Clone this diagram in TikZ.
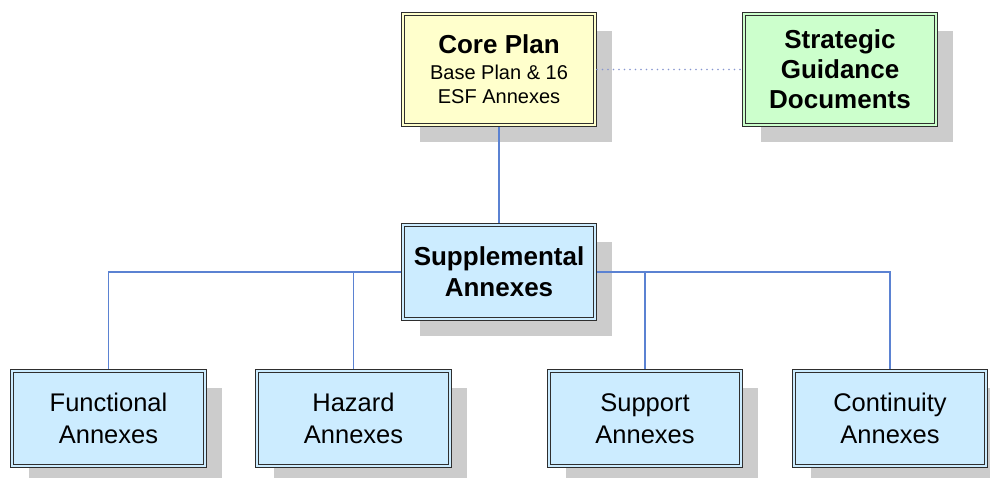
\documentclass[tikz,border=0pt]{standalone}
\usepackage{fontspec}
\setmainfont{Liberation Sans}
\usetikzlibrary{shadows}

\definecolor{planyellow}{HTML}{FFFFCC}
\definecolor{guidegreen}{HTML}{CCFFCC}
\definecolor{annexblue}{HTML}{CCECFF}
\definecolor{linkblue}{HTML}{5B82D2}
\definecolor{dotblue}{HTML}{8796D0}
\definecolor{shadowgray}{HTML}{CCCCCC}
\definecolor{edgegray}{HTML}{2E2E2E}

\tikzset{
    box/.style={draw=edgegray, line width=1.1pt, double=#1, double distance=2pt,
        fill=#1, align=center, outer sep=2.2pt,
        general shadow={fill=shadowgray, shadow xshift=17pt, shadow yshift=-17pt}},
    topbox/.style={box=#1, minimum width=191.6pt, minimum height=110.6pt},
    midbox/.style={box=#1, minimum width=191.6pt, minimum height=93.6pt},
    lowbox/.style={box=#1, minimum width=192.6pt, minimum height=94.6pt},
    link/.style={draw=linkblue, line width=1.3pt},
}

\begin{document}
\begin{tikzpicture}[x=1pt, y=-1pt]
    \useasboundingbox (0,0) rectangle (990,477);

    \node[topbox=planyellow, font=\fontsize{20}{24}\selectfont] (core) at (499,69.5)
        {{\fontsize{26}{28}\selectfont\bfseries Core Plan}\\[2pt]
         Base Plan \& 16\\ESF Annexes};
    \node[topbox=guidegreen, font=\fontsize{26}{30}\selectfont\bfseries] (guide) at (840,69.5)
        {Strategic\\Guidance\\Documents};
    \node[midbox=annexblue, font=\fontsize{26}{31}\selectfont\bfseries] (supp) at (499,272)
        {Supplemental\\Annexes};

    \node[lowbox=annexblue, font=\fontsize{25.5}{32}\selectfont] (func) at (108.5,418.5) {Functional\\Annexes};
    \node[lowbox=annexblue, font=\fontsize{25.5}{32}\selectfont] (haz) at (353.5,418.5) {Hazard\\Annexes};
    \node[lowbox=annexblue, font=\fontsize{25.5}{32}\selectfont] (supt) at (645,418.5) {Support\\Annexes};
    \node[lowbox=annexblue, font=\fontsize{25.5}{32}\selectfont] (cont) at (890,418.5) {Continuity\\Annexes};

    \draw[link] (core) -- (supp);
    \draw[draw=dotblue, line width=1.8pt, line cap=round, dash pattern=on 0pt off 5.5pt] (core) -- (guide);
    \draw[link] (supp.west) -| (func.north);
    \draw[link] (supp.west) -| (haz.north);
    \draw[link] (supp.east) -| (supt.north);
    \draw[link] (supp.east) -| (cont.north);
\end{tikzpicture}
\end{document}
